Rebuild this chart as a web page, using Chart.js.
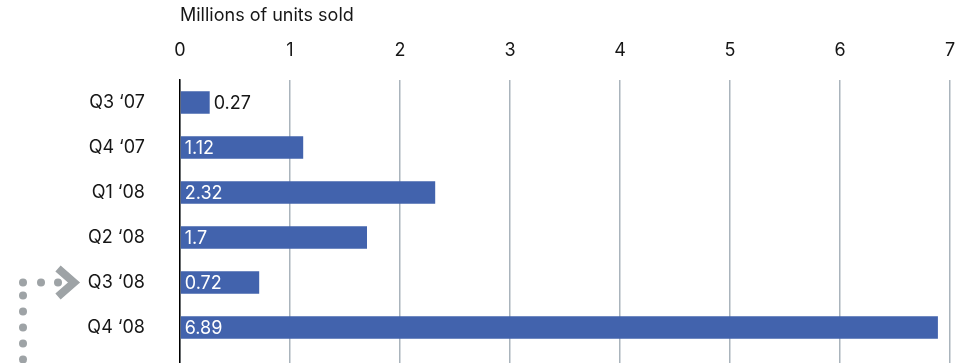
<!DOCTYPE html>
<html>
<head>
<meta charset="utf-8">
<script src="https://cdn.jsdelivr.net/npm/chart.js@4.4.1/dist/chart.umd.min.js"></script>
<style>
  html, body { margin: 0; padding: 0; background: #fff; overflow: hidden; }
  #wrap { position: relative; width: 962px; height: 363px; }
</style>
</head>
<body>
<div id="wrap"><canvas id="chart"></canvas></div>
<script>
// Quarterly units sold, millions. Row 4 (Q3 '08) is the one the arrow points at.
const QUARTERS = ["Q3 \u201807", "Q4 \u201807", "Q1 \u201808", "Q2 \u201808", "Q3 \u201808", "Q4 \u201808"];
const UNITS    = [0.27, 1.12, 2.32, 1.7, 0.72, 6.89];
const X_TICKS  = [0, 1, 2, 3, 4, 5, 6, 7];
const HIGHLIGHT = 4;

const BAR  = "#4263ad";
const INK  = "#161616";
const GRID = "#aab4bc";
const DOTS = "#9ea3a6";
const FONT = "Inter, 'Noto Sans', sans-serif";

// Value labels: white inside the bar, dark just past the end if the bar is too short.
const valueLabels = {
  id: "valueLabels",
  afterDatasetsDraw(chart) {
    const { ctx } = chart;
    const meta = chart.getDatasetMeta(0);
    ctx.save();
    ctx.font = `18px ${FONT}`;
    ctx.textBaseline = "middle";
    meta.data.forEach((bar, i) => {
      const text = String(UNITS[i]);
      const w = ctx.measureText(text).width;
      const inside = bar.x - bar.base > w + 8;
      ctx.fillStyle = inside ? "#fff" : INK;
      ctx.fillText(text, inside ? bar.base + 4 : bar.x + 4, bar.y + 1);
    });
    ctx.restore();
  }
};

// Dotted path + chevron on the left, pointing at the highlighted quarter.
const pointer = {
  id: "pointer",
  afterDraw(chart) {
    const { ctx } = chart;
    const y = chart.scales.y.getPixelForValue(HIGHLIGHT);
    ctx.save();
    ctx.fillStyle = DOTS;
    [23, 41, 58].forEach(x => { ctx.beginPath(); ctx.arc(x, y, 4, 0, Math.PI * 2); ctx.fill(); });
    for (let dy = y + 13; dy < chart.height + 10; dy += 16) {
      ctx.beginPath(); ctx.arc(23, dy, 4, 0, Math.PI * 2); ctx.fill();
    }
    ctx.strokeStyle = DOTS;
    ctx.lineWidth = 8;
    ctx.lineJoin = "miter";
    ctx.beginPath();
    ctx.moveTo(58, y - 14);
    ctx.lineTo(74, y);
    ctx.lineTo(58, y + 14);
    ctx.stroke();
    ctx.restore();
  }
};

new Chart(document.getElementById("chart"), {
  type: "bar",
  data: {
    datasets: [{
      data: UNITS.map((v, i) => ({ x: v, y: i })),
      backgroundColor: BAR,
      borderWidth: 0,
      barPercentage: 0.5,
      categoryPercentage: 1,
    }],
  },
  options: {
    indexAxis: "y",
    responsive: true,
    maintainAspectRatio: false,
    animation: false,
    layout: { padding: { left: 0, right: 12, top: 7, bottom: 0 } },
    plugins: { legend: { display: false }, tooltip: { enabled: false } },
    scales: {
      x: {
        type: "linear",
        position: "top",
        min: 0,
        max: 7,
        afterBuildTicks: s => { s.ticks = X_TICKS.map(v => ({ value: v })); },
        // plot area starts at y=80; no extra side padding from tick labels
        afterFit: s => { s.height = 73; s.paddingLeft = 0; s.paddingRight = 0; },
        ticks: { color: INK, font: { family: FONT, size: 18 }, padding: 19 },
        grid: { color: GRID, lineWidth: 1.5, drawTicks: false },
        border: { display: false },
        title: {
          display: true,
          text: "Millions of units sold",
          align: "start",
          color: INK,
          font: { family: FONT, size: 18, lineHeight: 1 },
          padding: { top: 0, bottom: 0 },
        },
      },
      y: {
        type: "linear",
        reverse: true,
        offset: false,
        min: -0.5,
        max: 5.79,
        afterBuildTicks: s => { s.ticks = QUARTERS.map((_, i) => ({ value: i })); },
        afterFit: s => { s.width = 180; s.paddingTop = 0; s.paddingBottom = 0; },
        ticks: {
          color: INK,
          font: { family: FONT, size: 18 },
          padding: 35,
          callback: v => QUARTERS[v],
        },
        grid: { display: false, drawTicks: false, offset: false },
        border: { display: true, color: "#000", width: 1.5 },
      },
    },
  },
  plugins: [valueLabels, pointer],
});
</script>
</body>
</html>
